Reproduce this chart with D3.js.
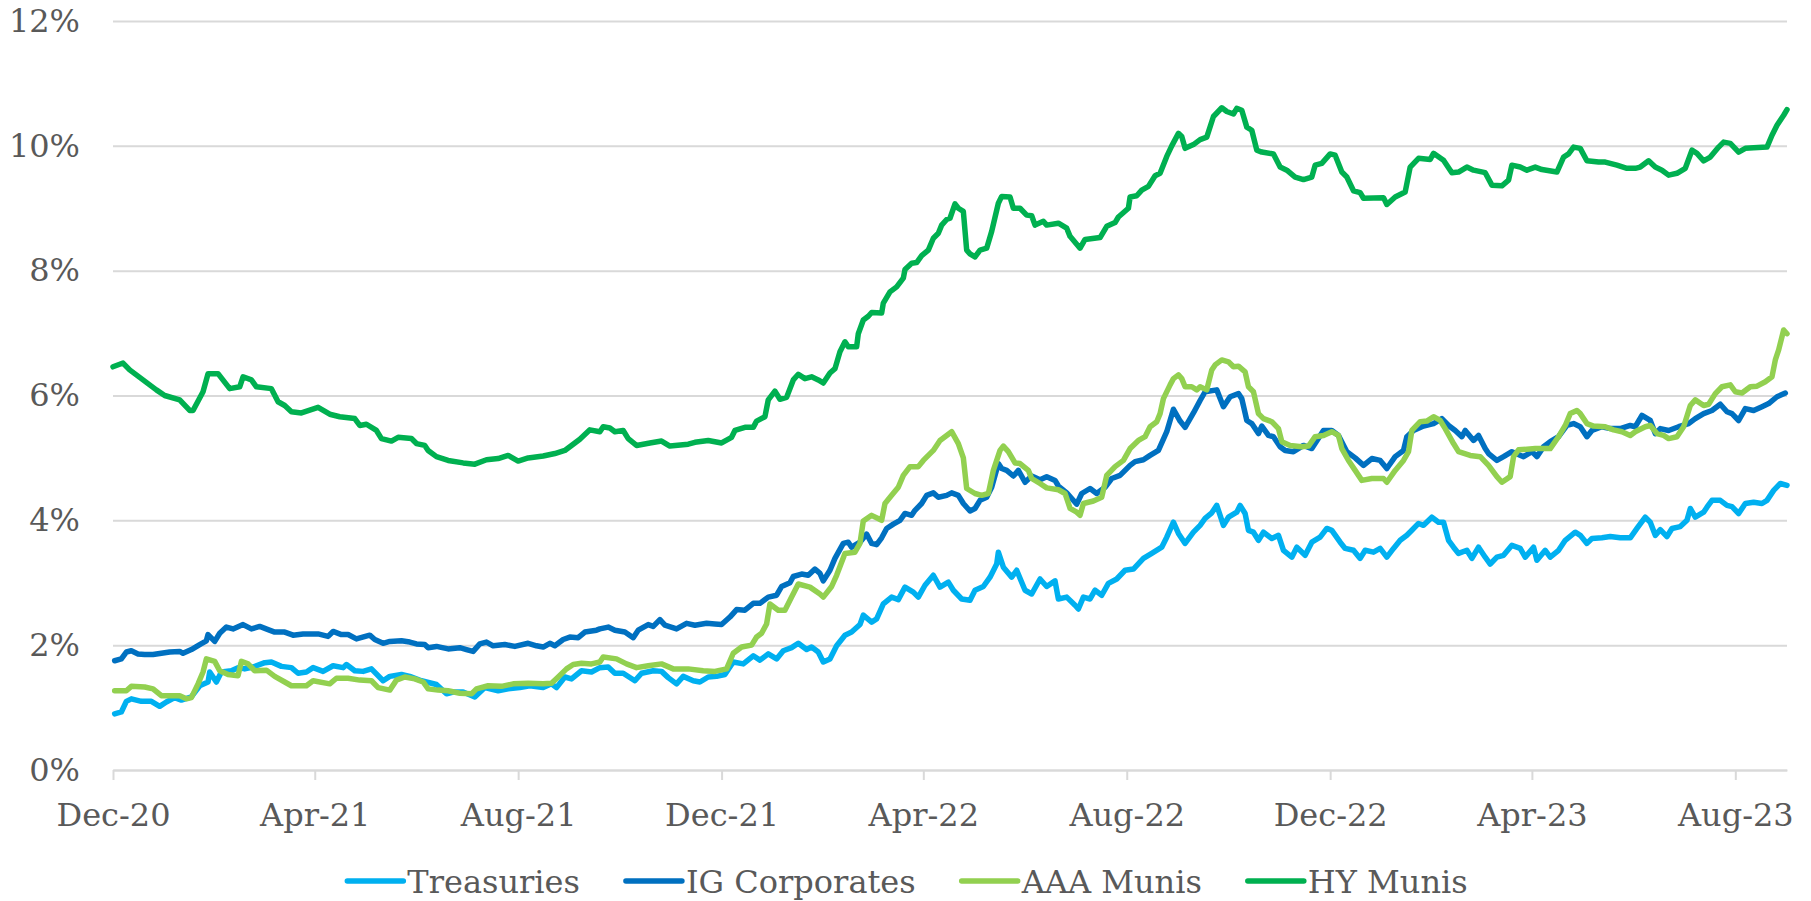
<!DOCTYPE html>
<html>
<head>
<meta charset="utf-8">
<script src="https://cdn.jsdelivr.net/npm/d3@7"></script>
<style>
  html, body { margin: 0; padding: 0; background: #ffffff; }
  svg { display: block; }
</style>
</head>
<body>
<svg id="chart"></svg>
<script>
// series names and colours, in legend order
const seriesNames = ["Treasuries", "IG Corporates", "AAA Munis", "HY Munis"];
const seriesColors = ["#00B0F0", "#0070C0", "#92D050", "#00B050"];

const xDomain = ["2020-12-01", "2023-09-01"];
const xTickDates = ["2020-12-01", "2021-04-01", "2021-08-01", "2021-12-01", "2022-04-01",
    "2022-08-01", "2022-12-01", "2023-04-01", "2023-08-01"];
const xTickLabels = ["Dec-20", "Apr-21", "Aug-21", "Dec-21", "Apr-22", "Aug-22", "Dec-22", "Apr-23", "Aug-23"];
const yTicks = [0, 2, 4, 6, 8, 10, 12];

// yields in %
const treasuries = [
    ["2020-12-02", 0.90], ["2020-12-06", 0.93], ["2020-12-09", 1.10], ["2020-12-12", 1.14], ["2020-12-18", 1.10],
    ["2020-12-24", 1.10], ["2020-12-29", 1.02], ["2021-01-02", 1.09], ["2021-01-07", 1.16], ["2021-01-11", 1.12],
    ["2021-01-17", 1.17], ["2021-01-22", 1.35], ["2021-01-27", 1.41], ["2021-01-28", 1.57], ["2021-02-01", 1.41],
    ["2021-02-04", 1.57], ["2021-02-10", 1.59], ["2021-02-14", 1.64], ["2021-02-18", 1.62], ["2021-02-23", 1.65],
    ["2021-03-02", 1.72], ["2021-03-06", 1.73], ["2021-03-12", 1.66], ["2021-03-18", 1.64], ["2021-03-22", 1.55],
    ["2021-03-27", 1.57], ["2021-03-31", 1.64], ["2021-04-06", 1.58], ["2021-04-12", 1.67], ["2021-04-18", 1.64],
    ["2021-04-20", 1.69], ["2021-04-25", 1.59], ["2021-04-30", 1.58], ["2021-05-05", 1.62], ["2021-05-12", 1.43],
    ["2021-05-16", 1.50], ["2021-05-23", 1.53], ["2021-05-28", 1.50], ["2021-06-04", 1.43], ["2021-06-13", 1.37],
    ["2021-06-19", 1.22], ["2021-06-23", 1.25], ["2021-06-29", 1.25], ["2021-07-06", 1.17], ["2021-07-12", 1.32],
    ["2021-07-20", 1.27], ["2021-07-26", 1.30], ["2021-08-02", 1.32], ["2021-08-08", 1.35], ["2021-08-16", 1.32],
    ["2021-08-21", 1.38], ["2021-08-24", 1.32], ["2021-08-29", 1.49], ["2021-09-02", 1.46], ["2021-09-08", 1.59],
    ["2021-09-14", 1.57], ["2021-09-19", 1.64], ["2021-09-24", 1.65], ["2021-09-28", 1.55], ["2021-10-03", 1.55],
    ["2021-10-10", 1.43], ["2021-10-14", 1.55], ["2021-10-21", 1.59], ["2021-10-26", 1.58], ["2021-10-30", 1.48],
    ["2021-11-04", 1.38], ["2021-11-08", 1.50], ["2021-11-14", 1.43], ["2021-11-18", 1.41], ["2021-11-23", 1.49],
    ["2021-11-28", 1.50], ["2021-12-03", 1.53], ["2021-12-08", 1.73], ["2021-12-14", 1.70], ["2021-12-20", 1.83],
    ["2021-12-24", 1.76], ["2021-12-29", 1.86], ["2022-01-03", 1.78], ["2022-01-07", 1.91], ["2022-01-12", 1.96],
    ["2022-01-16", 2.03], ["2022-01-21", 1.93], ["2022-01-24", 1.97], ["2022-01-28", 1.89], ["2022-01-31", 1.73],
    ["2022-02-04", 1.78], ["2022-02-08", 1.99], ["2022-02-13", 2.16], ["2022-02-17", 2.21], ["2022-02-22", 2.33],
    ["2022-02-24", 2.48], ["2022-03-01", 2.37], ["2022-03-04", 2.42], ["2022-03-08", 2.66], ["2022-03-13", 2.77],
    ["2022-03-17", 2.73], ["2022-03-21", 2.93], ["2022-03-26", 2.85], ["2022-03-29", 2.77], ["2022-04-02", 2.96],
    ["2022-04-07", 3.12], ["2022-04-11", 2.93], ["2022-04-16", 3.01], ["2022-04-19", 2.88], ["2022-04-24", 2.74],
    ["2022-04-29", 2.72], ["2022-05-02", 2.88], ["2022-05-07", 2.94], ["2022-05-11", 3.09], ["2022-05-15", 3.30],
    ["2022-05-16", 3.49], ["2022-05-19", 3.25], ["2022-05-24", 3.09], ["2022-05-27", 3.20], ["2022-06-01", 2.88],
    ["2022-06-05", 2.82], ["2022-06-10", 3.06], ["2022-06-14", 2.94], ["2022-06-19", 3.03], ["2022-06-21", 2.74],
    ["2022-06-26", 2.77], ["2022-07-01", 2.64], ["2022-07-03", 2.58], ["2022-07-06", 2.77], ["2022-07-10", 2.74],
    ["2022-07-13", 2.88], ["2022-07-17", 2.80], ["2022-07-21", 2.99], ["2022-07-26", 3.06], ["2022-07-31", 3.20],
    ["2022-08-05", 3.22], ["2022-08-11", 3.39], ["2022-08-16", 3.47], ["2022-08-22", 3.57], ["2022-08-25", 3.73],
    ["2022-08-29", 3.97], ["2022-09-01", 3.79], ["2022-09-05", 3.63], ["2022-09-10", 3.81], ["2022-09-14", 3.92],
    ["2022-09-17", 4.03], ["2022-09-21", 4.12], ["2022-09-24", 4.24], ["2022-09-28", 3.92], ["2022-10-01", 4.05],
    ["2022-10-06", 4.13], ["2022-10-08", 4.24], ["2022-10-11", 4.11], ["2022-10-13", 3.84], ["2022-10-16", 3.81],
    ["2022-10-19", 3.68], ["2022-10-22", 3.81], ["2022-10-27", 3.71], ["2022-10-31", 3.76], ["2022-11-03", 3.52],
    ["2022-11-08", 3.41], ["2022-11-11", 3.57], ["2022-11-16", 3.44], ["2022-11-20", 3.65], ["2022-11-25", 3.73],
    ["2022-11-29", 3.87], ["2022-12-02", 3.84], ["2022-12-07", 3.65], ["2022-12-10", 3.55], ["2022-12-15", 3.52],
    ["2022-12-19", 3.39], ["2022-12-22", 3.52], ["2022-12-27", 3.49], ["2022-12-31", 3.55], ["2023-01-04", 3.41],
    ["2023-01-08", 3.55], ["2023-01-12", 3.68], ["2023-01-16", 3.76], ["2023-01-19", 3.84], ["2023-01-23", 3.95],
    ["2023-01-26", 3.92], ["2023-01-31", 4.05], ["2023-02-04", 3.97], ["2023-02-07", 3.97], ["2023-02-10", 3.68],
    ["2023-02-13", 3.57], ["2023-02-16", 3.47], ["2023-02-21", 3.52], ["2023-02-24", 3.39], ["2023-02-28", 3.57],
    ["2023-03-04", 3.41], ["2023-03-07", 3.30], ["2023-03-11", 3.41], ["2023-03-15", 3.44], ["2023-03-20", 3.60],
    ["2023-03-25", 3.55], ["2023-03-28", 3.41], ["2023-04-02", 3.57], ["2023-04-04", 3.36], ["2023-04-09", 3.52],
    ["2023-04-12", 3.41], ["2023-04-17", 3.52], ["2023-04-21", 3.68], ["2023-04-27", 3.81], ["2023-04-30", 3.76],
    ["2023-05-04", 3.63], ["2023-05-07", 3.71], ["2023-05-13", 3.72], ["2023-05-18", 3.74], ["2023-05-24", 3.72],
    ["2023-05-30", 3.72], ["2023-06-03", 3.87], ["2023-06-08", 4.05], ["2023-06-11", 3.97], ["2023-06-14", 3.76],
    ["2023-06-17", 3.85], ["2023-06-21", 3.74], ["2023-06-24", 3.87], ["2023-06-29", 3.90], ["2023-07-03", 4.00],
    ["2023-07-05", 4.19], ["2023-07-08", 4.05], ["2023-07-13", 4.13], ["2023-07-15", 4.21], ["2023-07-18", 4.32],
    ["2023-07-23", 4.32], ["2023-07-27", 4.24], ["2023-07-30", 4.22], ["2023-08-03", 4.11], ["2023-08-07", 4.27],
    ["2023-08-12", 4.29], ["2023-08-17", 4.27], ["2023-08-20", 4.32], ["2023-08-24", 4.48], ["2023-08-28", 4.59],
    ["2023-09-01", 4.56]
];

const igCorporates = [
    ["2020-12-02", 1.75], ["2020-12-06", 1.78], ["2020-12-09", 1.89], ["2020-12-12", 1.91], ["2020-12-16", 1.86],
    ["2020-12-20", 1.85], ["2020-12-25", 1.85], ["2020-12-30", 1.87], ["2021-01-04", 1.89], ["2021-01-10", 1.90],
    ["2021-01-12", 1.87], ["2021-01-17", 1.93], ["2021-01-22", 2.01], ["2021-01-26", 2.07], ["2021-01-27", 2.17],
    ["2021-01-31", 2.06], ["2021-02-03", 2.19], ["2021-02-07", 2.29], ["2021-02-11", 2.26], ["2021-02-17", 2.33],
    ["2021-02-22", 2.26], ["2021-02-27", 2.30], ["2021-03-04", 2.25], ["2021-03-08", 2.21], ["2021-03-14", 2.21],
    ["2021-03-19", 2.16], ["2021-03-25", 2.18], ["2021-04-03", 2.18], ["2021-04-09", 2.14], ["2021-04-12", 2.22],
    ["2021-04-17", 2.17], ["2021-04-21", 2.17], ["2021-04-26", 2.10], ["2021-05-04", 2.16], ["2021-05-07", 2.09],
    ["2021-05-12", 2.03], ["2021-05-16", 2.06], ["2021-05-23", 2.07], ["2021-05-28", 2.05], ["2021-06-01", 2.02],
    ["2021-06-06", 2.01], ["2021-06-08", 1.96], ["2021-06-13", 1.98], ["2021-06-20", 1.94], ["2021-06-27", 1.96],
    ["2021-07-01", 1.93], ["2021-07-05", 1.90], ["2021-07-09", 2.02], ["2021-07-13", 2.05], ["2021-07-17", 1.99],
    ["2021-07-24", 2.01], ["2021-07-30", 1.98], ["2021-08-07", 2.03], ["2021-08-12", 1.99], ["2021-08-16", 1.97],
    ["2021-08-20", 2.03], ["2021-08-23", 1.99], ["2021-08-28", 2.09], ["2021-09-01", 2.13], ["2021-09-06", 2.12],
    ["2021-09-10", 2.21], ["2021-09-17", 2.24], ["2021-09-19", 2.26], ["2021-09-24", 2.29], ["2021-09-28", 2.24],
    ["2021-10-04", 2.21], ["2021-10-09", 2.12], ["2021-10-12", 2.24], ["2021-10-18", 2.33], ["2021-10-21", 2.30],
    ["2021-10-25", 2.41], ["2021-10-28", 2.32], ["2021-11-04", 2.26], ["2021-11-10", 2.35], ["2021-11-15", 2.32],
    ["2021-11-22", 2.35], ["2021-11-27", 2.34], ["2021-12-01", 2.33], ["2021-12-06", 2.45], ["2021-12-10", 2.57],
    ["2021-12-15", 2.56], ["2021-12-20", 2.67], ["2021-12-24", 2.67], ["2021-12-29", 2.77], ["2022-01-03", 2.80],
    ["2022-01-06", 2.94], ["2022-01-11", 3.00], ["2022-01-13", 3.10], ["2022-01-18", 3.14], ["2022-01-22", 3.12],
    ["2022-01-26", 3.22], ["2022-01-29", 3.15], ["2022-01-31", 3.03], ["2022-02-04", 3.20], ["2022-02-07", 3.39],
    ["2022-02-12", 3.63], ["2022-02-15", 3.65], ["2022-02-17", 3.57], ["2022-02-22", 3.65], ["2022-02-26", 3.78],
    ["2022-03-01", 3.63], ["2022-03-04", 3.61], ["2022-03-07", 3.72], ["2022-03-10", 3.87], ["2022-03-14", 3.94],
    ["2022-03-18", 4.00], ["2022-03-21", 4.11], ["2022-03-25", 4.08], ["2022-03-27", 4.16], ["2022-03-31", 4.27],
    ["2022-04-03", 4.40], ["2022-04-07", 4.44], ["2022-04-10", 4.37], ["2022-04-15", 4.40], ["2022-04-18", 4.44],
    ["2022-04-22", 4.40], ["2022-04-25", 4.27], ["2022-04-29", 4.15], ["2022-05-02", 4.19], ["2022-05-05", 4.32],
    ["2022-05-09", 4.37], ["2022-05-12", 4.53], ["2022-05-16", 4.91], ["2022-05-18", 4.83], ["2022-05-21", 4.80],
    ["2022-05-25", 4.71], ["2022-05-28", 4.80], ["2022-06-01", 4.61], ["2022-06-05", 4.71], ["2022-06-10", 4.65],
    ["2022-06-14", 4.70], ["2022-06-19", 4.64], ["2022-06-21", 4.55], ["2022-06-26", 4.44], ["2022-06-29", 4.35],
    ["2022-07-02", 4.26], ["2022-07-05", 4.43], ["2022-07-10", 4.51], ["2022-07-14", 4.43], ["2022-07-19", 4.53],
    ["2022-07-23", 4.67], ["2022-07-28", 4.72], ["2022-08-03", 4.88], ["2022-08-06", 4.94], ["2022-08-11", 4.97],
    ["2022-08-15", 5.04], ["2022-08-20", 5.12], ["2022-08-25", 5.42], ["2022-08-29", 5.78], ["2022-09-02", 5.59],
    ["2022-09-05", 5.49], ["2022-09-10", 5.72], ["2022-09-14", 5.92], ["2022-09-17", 6.06], ["2022-09-24", 6.09],
    ["2022-09-28", 5.82], ["2022-10-02", 5.98], ["2022-10-07", 6.03], ["2022-10-09", 5.95], ["2022-10-12", 5.60],
    ["2022-10-15", 5.55], ["2022-10-19", 5.39], ["2022-10-21", 5.51], ["2022-10-25", 5.36], ["2022-10-28", 5.34],
    ["2022-11-01", 5.18], ["2022-11-04", 5.12], ["2022-11-09", 5.10], ["2022-11-15", 5.20], ["2022-11-20", 5.15],
    ["2022-11-27", 5.44], ["2022-12-02", 5.44], ["2022-12-06", 5.36], ["2022-12-11", 5.10], ["2022-12-16", 5.00],
    ["2022-12-21", 4.88], ["2022-12-26", 4.99], ["2022-12-31", 4.96], ["2023-01-04", 4.83], ["2023-01-09", 5.02],
    ["2023-01-14", 5.12], ["2023-01-16", 5.34], ["2023-01-20", 5.44], ["2023-01-26", 5.51], ["2023-02-01", 5.55],
    ["2023-02-06", 5.63], ["2023-02-10", 5.52], ["2023-02-14", 5.44], ["2023-02-18", 5.34], ["2023-02-20", 5.44],
    ["2023-02-25", 5.28], ["2023-02-28", 5.36], ["2023-03-04", 5.15], ["2023-03-06", 5.07], ["2023-03-11", 4.96],
    ["2023-03-15", 5.02], ["2023-03-20", 5.10], ["2023-03-27", 5.02], ["2023-04-01", 5.10], ["2023-04-04", 5.02],
    ["2023-04-08", 5.18], ["2023-04-12", 5.26], ["2023-04-17", 5.34], ["2023-04-22", 5.52], ["2023-04-26", 5.55],
    ["2023-04-30", 5.50], ["2023-05-04", 5.34], ["2023-05-07", 5.44], ["2023-05-13", 5.50], ["2023-05-18", 5.47],
    ["2023-05-24", 5.47], ["2023-05-30", 5.52], ["2023-06-02", 5.50], ["2023-06-06", 5.68], ["2023-06-11", 5.60],
    ["2023-06-14", 5.39], ["2023-06-17", 5.47], ["2023-06-22", 5.44], ["2023-06-28", 5.50], ["2023-07-04", 5.55],
    ["2023-07-08", 5.63], ["2023-07-13", 5.71], ["2023-07-18", 5.76], ["2023-07-23", 5.86], ["2023-07-27", 5.74],
    ["2023-07-30", 5.71], ["2023-08-03", 5.60], ["2023-08-07", 5.79], ["2023-08-12", 5.76], ["2023-08-17", 5.82],
    ["2023-08-21", 5.87], ["2023-08-26", 5.98], ["2023-08-31", 6.04]
];

const aaaMunis = [
    ["2020-12-02", 1.27], ["2020-12-09", 1.27], ["2020-12-12", 1.34], ["2020-12-20", 1.33], ["2020-12-25", 1.30],
    ["2020-12-30", 1.19], ["2021-01-06", 1.19], ["2021-01-10", 1.19], ["2021-01-14", 1.14], ["2021-01-17", 1.16],
    ["2021-01-21", 1.38], ["2021-01-24", 1.57], ["2021-01-26", 1.78], ["2021-01-31", 1.74], ["2021-02-03", 1.59],
    ["2021-02-08", 1.53], ["2021-02-14", 1.51], ["2021-02-16", 1.74], ["2021-02-20", 1.70], ["2021-02-24", 1.59],
    ["2021-03-03", 1.60], ["2021-03-08", 1.50], ["2021-03-14", 1.41], ["2021-03-18", 1.35], ["2021-03-27", 1.35],
    ["2021-03-31", 1.43], ["2021-04-10", 1.38], ["2021-04-14", 1.47], ["2021-04-21", 1.47], ["2021-04-28", 1.44],
    ["2021-05-05", 1.43], ["2021-05-09", 1.32], ["2021-05-16", 1.28], ["2021-05-20", 1.44], ["2021-05-25", 1.49],
    ["2021-05-31", 1.46], ["2021-06-05", 1.41], ["2021-06-08", 1.30], ["2021-06-14", 1.28], ["2021-06-20", 1.27],
    ["2021-06-27", 1.23], ["2021-07-04", 1.22], ["2021-07-07", 1.30], ["2021-07-14", 1.35], ["2021-07-22", 1.34],
    ["2021-07-29", 1.38], ["2021-08-07", 1.39], ["2021-08-16", 1.38], ["2021-08-21", 1.39], ["2021-08-25", 1.49],
    ["2021-08-30", 1.62], ["2021-09-03", 1.69], ["2021-09-08", 1.71], ["2021-09-14", 1.70], ["2021-09-19", 1.73],
    ["2021-09-21", 1.81], ["2021-09-29", 1.78], ["2021-10-05", 1.70], ["2021-10-11", 1.64], ["2021-10-18", 1.67],
    ["2021-10-26", 1.70], ["2021-11-02", 1.62], ["2021-11-11", 1.62], ["2021-11-20", 1.59], ["2021-11-27", 1.58],
    ["2021-12-04", 1.62], ["2021-12-08", 1.87], ["2021-12-13", 1.97], ["2021-12-19", 2.00], ["2021-12-22", 2.13],
    ["2021-12-25", 2.19], ["2021-12-28", 2.34], ["2021-12-30", 2.66], ["2022-01-04", 2.56], ["2022-01-08", 2.56],
    ["2022-01-12", 2.77], ["2022-01-16", 2.98], ["2022-01-23", 2.93], ["2022-01-29", 2.82], ["2022-01-31", 2.77],
    ["2022-02-05", 2.94], ["2022-02-08", 3.12], ["2022-02-13", 3.47], ["2022-02-19", 3.49], ["2022-02-22", 3.63],
    ["2022-02-24", 3.99], ["2022-03-01", 4.08], ["2022-03-07", 4.00], ["2022-03-09", 4.27], ["2022-03-13", 4.40],
    ["2022-03-17", 4.53], ["2022-03-20", 4.72], ["2022-03-24", 4.86], ["2022-03-29", 4.86], ["2022-04-01", 4.96],
    ["2022-04-07", 5.12], ["2022-04-11", 5.28], ["2022-04-15", 5.36], ["2022-04-18", 5.42], ["2022-04-22", 5.23],
    ["2022-04-25", 5.00], ["2022-04-27", 4.51], ["2022-05-02", 4.43], ["2022-05-06", 4.40], ["2022-05-10", 4.43],
    ["2022-05-13", 4.80], ["2022-05-17", 5.12], ["2022-05-19", 5.19], ["2022-05-22", 5.10], ["2022-05-26", 4.92],
    ["2022-05-29", 4.91], ["2022-06-03", 4.80], ["2022-06-05", 4.67], ["2022-06-10", 4.59], ["2022-06-14", 4.52],
    ["2022-06-21", 4.49], ["2022-06-25", 4.43], ["2022-06-28", 4.19], ["2022-07-02", 4.13], ["2022-07-04", 4.08],
    ["2022-07-06", 4.27], ["2022-07-12", 4.31], ["2022-07-17", 4.37], ["2022-07-20", 4.72], ["2022-07-25", 4.86],
    ["2022-07-30", 4.96], ["2022-08-03", 5.15], ["2022-08-08", 5.28], ["2022-08-12", 5.34], ["2022-08-15", 5.50],
    ["2022-08-19", 5.58], ["2022-08-21", 5.71], ["2022-08-23", 5.95], ["2022-08-27", 6.17], ["2022-08-29", 6.27],
    ["2022-09-01", 6.33], ["2022-09-03", 6.27], ["2022-09-05", 6.14], ["2022-09-09", 6.14], ["2022-09-12", 6.09],
    ["2022-09-14", 6.14], ["2022-09-18", 6.09], ["2022-09-21", 6.41], ["2022-09-23", 6.49], ["2022-09-27", 6.57],
    ["2022-10-01", 6.54], ["2022-10-04", 6.46], ["2022-10-07", 6.47], ["2022-10-11", 6.38], ["2022-10-13", 6.14],
    ["2022-10-16", 6.06], ["2022-10-19", 5.71], ["2022-10-22", 5.63], ["2022-10-27", 5.58], ["2022-10-31", 5.47],
    ["2022-11-02", 5.26], ["2022-11-07", 5.20], ["2022-11-14", 5.18], ["2022-11-18", 5.19], ["2022-11-22", 5.34],
    ["2022-11-27", 5.36], ["2022-12-02", 5.42], ["2022-12-06", 5.36], ["2022-12-08", 5.15], ["2022-12-12", 4.96],
    ["2022-12-16", 4.80], ["2022-12-20", 4.64], ["2022-12-26", 4.67], ["2023-01-02", 4.67], ["2023-01-04", 4.61],
    ["2023-01-09", 4.80], ["2023-01-14", 4.96], ["2023-01-17", 5.10], ["2023-01-19", 5.44], ["2023-01-24", 5.58],
    ["2023-01-28", 5.59], ["2023-02-01", 5.66], ["2023-02-05", 5.60], ["2023-02-08", 5.47], ["2023-02-13", 5.23],
    ["2023-02-16", 5.10], ["2023-02-23", 5.04], ["2023-03-01", 5.02], ["2023-03-06", 4.88], ["2023-03-11", 4.70],
    ["2023-03-14", 4.61], ["2023-03-19", 4.70], ["2023-03-21", 5.02], ["2023-03-24", 5.13], ["2023-04-03", 5.15],
    ["2023-04-12", 5.15], ["2023-04-17", 5.34], ["2023-04-21", 5.52], ["2023-04-24", 5.71], ["2023-04-28", 5.76],
    ["2023-04-30", 5.71], ["2023-05-04", 5.55], ["2023-05-08", 5.51], ["2023-05-15", 5.50], ["2023-05-20", 5.45],
    ["2023-05-25", 5.42], ["2023-05-30", 5.36], ["2023-06-02", 5.42], ["2023-06-08", 5.50], ["2023-06-11", 5.52],
    ["2023-06-15", 5.39], ["2023-06-19", 5.36], ["2023-06-22", 5.31], ["2023-06-27", 5.34], ["2023-07-01", 5.50],
    ["2023-07-05", 5.84], ["2023-07-08", 5.93], ["2023-07-13", 5.84], ["2023-07-16", 5.86], ["2023-07-20", 6.03],
    ["2023-07-24", 6.14], ["2023-07-29", 6.17], ["2023-08-01", 6.06], ["2023-08-05", 6.04], ["2023-08-10", 6.14],
    ["2023-08-14", 6.15], ["2023-08-19", 6.22], ["2023-08-23", 6.30], ["2023-08-25", 6.57], ["2023-08-27", 6.73],
    ["2023-08-30", 7.05], ["2023-09-01", 6.99]
];

const hyMunis = [
    ["2020-12-01", 6.46], ["2020-12-07", 6.52], ["2020-12-11", 6.41], ["2020-12-18", 6.27], ["2020-12-27", 6.09],
    ["2021-01-01", 6.00], ["2021-01-10", 5.93], ["2021-01-16", 5.76], ["2021-01-18", 5.76], ["2021-01-24", 6.06],
    ["2021-01-27", 6.35], ["2021-02-02", 6.35], ["2021-02-09", 6.11], ["2021-02-15", 6.14], ["2021-02-17", 6.30],
    ["2021-02-22", 6.25], ["2021-02-25", 6.14], ["2021-03-06", 6.11], ["2021-03-10", 5.90], ["2021-03-14", 5.84],
    ["2021-03-18", 5.74], ["2021-03-24", 5.72], ["2021-04-03", 5.81], ["2021-04-10", 5.70], ["2021-04-16", 5.66],
    ["2021-04-25", 5.63], ["2021-04-28", 5.52], ["2021-05-02", 5.54], ["2021-05-08", 5.44], ["2021-05-11", 5.31],
    ["2021-05-17", 5.27], ["2021-05-21", 5.33], ["2021-05-29", 5.31], ["2021-06-01", 5.23], ["2021-06-06", 5.20],
    ["2021-06-08", 5.12], ["2021-06-13", 5.02], ["2021-06-20", 4.96], ["2021-06-29", 4.92], ["2021-07-06", 4.90],
    ["2021-07-13", 4.97], ["2021-07-20", 4.99], ["2021-07-26", 5.04], ["2021-08-01", 4.95], ["2021-08-07", 5.00],
    ["2021-08-16", 5.03], ["2021-08-23", 5.07], ["2021-08-29", 5.12], ["2021-09-07", 5.30], ["2021-09-13", 5.45],
    ["2021-09-19", 5.42], ["2021-09-21", 5.50], ["2021-09-25", 5.48], ["2021-09-28", 5.42], ["2021-10-03", 5.44],
    ["2021-10-06", 5.31], ["2021-10-11", 5.20], ["2021-10-19", 5.24], ["2021-10-26", 5.27], ["2021-10-31", 5.19],
    ["2021-11-11", 5.22], ["2021-11-15", 5.25], ["2021-11-23", 5.28], ["2021-12-01", 5.24], ["2021-12-07", 5.33],
    ["2021-12-09", 5.44], ["2021-12-15", 5.49], ["2021-12-20", 5.49], ["2021-12-22", 5.59], ["2021-12-27", 5.66],
    ["2021-12-29", 5.93], ["2022-01-02", 6.07], ["2022-01-05", 5.94], ["2022-01-09", 5.97], ["2022-01-13", 6.25],
    ["2022-01-16", 6.34], ["2022-01-20", 6.27], ["2022-01-24", 6.30], ["2022-01-28", 6.25], ["2022-01-31", 6.20],
    ["2022-02-04", 6.36], ["2022-02-07", 6.43], ["2022-02-10", 6.70], ["2022-02-13", 6.86], ["2022-02-15", 6.78],
    ["2022-02-20", 6.78], ["2022-02-21", 6.99], ["2022-02-24", 7.21], ["2022-02-27", 7.27], ["2022-03-01", 7.33],
    ["2022-03-07", 7.32], ["2022-03-08", 7.48], ["2022-03-12", 7.66], ["2022-03-16", 7.74], ["2022-03-20", 7.88],
    ["2022-03-21", 8.02], ["2022-03-25", 8.12], ["2022-03-28", 8.13], ["2022-03-31", 8.24], ["2022-04-04", 8.33],
    ["2022-04-07", 8.52], ["2022-04-10", 8.60], ["2022-04-12", 8.73], ["2022-04-15", 8.82], ["2022-04-17", 8.84],
    ["2022-04-20", 9.07], ["2022-04-22", 9.00], ["2022-04-25", 8.95], ["2022-04-27", 8.33], ["2022-04-29", 8.27],
    ["2022-05-02", 8.22], ["2022-05-05", 8.33], ["2022-05-09", 8.36], ["2022-05-12", 8.63], ["2022-05-16", 9.08],
    ["2022-05-18", 9.19], ["2022-05-23", 9.18], ["2022-05-25", 9.00], ["2022-05-29", 9.00], ["2022-06-02", 8.89],
    ["2022-06-05", 8.88], ["2022-06-07", 8.73], ["2022-06-12", 8.79], ["2022-06-14", 8.73], ["2022-06-21", 8.76],
    ["2022-06-26", 8.68], ["2022-06-28", 8.55], ["2022-07-04", 8.36], ["2022-07-07", 8.50], ["2022-07-16", 8.53],
    ["2022-07-20", 8.71], ["2022-07-25", 8.77], ["2022-07-27", 8.86], ["2022-08-02", 9.00], ["2022-08-03", 9.18],
    ["2022-08-07", 9.20], ["2022-08-10", 9.29], ["2022-08-14", 9.35], ["2022-08-18", 9.52], ["2022-08-21", 9.56],
    ["2022-08-25", 9.83], ["2022-08-28", 10.00], ["2022-09-01", 10.20], ["2022-09-03", 10.15], ["2022-09-05", 9.96],
    ["2022-09-10", 10.02], ["2022-09-14", 10.10], ["2022-09-18", 10.14], ["2022-09-22", 10.47], ["2022-09-27", 10.61],
    ["2022-09-30", 10.55], ["2022-10-04", 10.51], ["2022-10-06", 10.60], ["2022-10-09", 10.57], ["2022-10-12", 10.30],
    ["2022-10-15", 10.25], ["2022-10-18", 9.93], ["2022-10-21", 9.90], ["2022-10-28", 9.87], ["2022-11-01", 9.66],
    ["2022-11-05", 9.61], ["2022-11-10", 9.50], ["2022-11-15", 9.46], ["2022-11-20", 9.50], ["2022-11-22", 9.69],
    ["2022-11-26", 9.72], ["2022-12-01", 9.87], ["2022-12-04", 9.85], ["2022-12-08", 9.58], ["2022-12-11", 9.50],
    ["2022-12-15", 9.28], ["2022-12-19", 9.25], ["2022-12-21", 9.16], ["2023-01-02", 9.17], ["2023-01-04", 9.06],
    ["2023-01-09", 9.18], ["2023-01-15", 9.26], ["2023-01-18", 9.66], ["2023-01-23", 9.80], ["2023-01-30", 9.78],
    ["2023-02-01", 9.88], ["2023-02-07", 9.77], ["2023-02-12", 9.57], ["2023-02-16", 9.58], ["2023-02-21", 9.66],
    ["2023-02-25", 9.61], ["2023-03-04", 9.57], ["2023-03-08", 9.37], ["2023-03-14", 9.36], ["2023-03-18", 9.45],
    ["2023-03-20", 9.69], ["2023-03-25", 9.66], ["2023-03-29", 9.61], ["2023-04-03", 9.66], ["2023-04-07", 9.62],
    ["2023-04-16", 9.58], ["2023-04-20", 9.82], ["2023-04-23", 9.87], ["2023-04-26", 9.98], ["2023-04-30", 9.96],
    ["2023-05-04", 9.76], ["2023-05-11", 9.74], ["2023-05-15", 9.74], ["2023-05-22", 9.69], ["2023-05-28", 9.64],
    ["2023-06-02", 9.64], ["2023-06-05", 9.66], ["2023-06-10", 9.76], ["2023-06-14", 9.66], ["2023-06-18", 9.61],
    ["2023-06-22", 9.53], ["2023-06-27", 9.56], ["2023-07-02", 9.64], ["2023-07-06", 9.93], ["2023-07-09", 9.88],
    ["2023-07-13", 9.76], ["2023-07-17", 9.82], ["2023-07-22", 9.98], ["2023-07-25", 10.06], ["2023-07-29", 10.04],
    ["2023-08-03", 9.90], ["2023-08-07", 9.96], ["2023-08-12", 9.97], ["2023-08-20", 9.98], ["2023-08-23", 10.17],
    ["2023-08-26", 10.33], ["2023-08-30", 10.49], ["2023-09-01", 10.58]
];

const seriesValues = [treasuries, igCorporates, aaaMunis, hyMunis];

class LineChart {

    constructor(config, data) {
        this.config = {
            parent: config.parent,
            width: config.width || 1811,
            height: config.height || 901,
            margin: config.margin || { top: 21, right: 24, bottom: 131, left: 113 },
            font: config.font || "'DejaVu Serif', Georgia, serif",
            fontSize: config.fontSize || 32,
            textColor: config.textColor || '#595959',
            gridColor: config.gridColor || '#D9D9D9',
        };
        this.data = data;
        this.init();
    }

    init() {
        let self = this;
        let parse = d3.timeParse('%Y-%m-%d');
        self.parse = parse;

        self.svg = d3.select(self.config.parent)
            .attr('width', self.config.width)
            .attr('height', self.config.height)
            .style('font-family', self.config.font);

        let margin = self.config.margin;
        self.inner_width = self.config.width - margin.left - margin.right;
        self.inner_height = self.config.height - margin.top - margin.bottom;

        self.chart = self.svg.append('g')
            .attr('transform', `translate(${margin.left}, ${margin.top})`);

        self.xscale = d3.scaleTime()
            .domain(xDomain.map(parse))
            .range([0, self.inner_width]);

        self.yscale = d3.scaleLinear()
            .domain([0, 12])
            .range([self.inner_height, 0]);

        self.yaxis = d3.axisLeft(self.yscale)
            .tickValues(yTicks)
            .tickSize(-self.inner_width)
            .tickPadding(33)
            .tickFormat(d => d + '%');

        self.xaxis = d3.axisBottom(self.xscale)
            .tickValues(xTickDates.map(parse))
            .tickSize(10)
            .tickSizeOuter(0)
            .tickPadding(23)
            .tickFormat((d, i) => xTickLabels[i]);

        self.yaxis_group = self.chart.append('g');
        self.xaxis_group = self.chart.append('g')
            .attr('transform', `translate(0, ${self.inner_height})`);
        self.line_group = self.chart.append('g');
        self.legend_group = self.svg.append('g');
    }

    render() {
        let self = this;
        let c = self.config;

        self.yaxis_group.call(self.yaxis);
        self.yaxis_group.select('.domain').remove();
        self.yaxis_group.selectAll('.tick line')
            .attr('stroke', c.gridColor)
            .attr('stroke-width', 2);
        self.yaxis_group.selectAll('.tick text')
            .attr('fill', c.textColor)
            .attr('font-size', c.fontSize)
            .attr('font-family', c.font);

        self.xaxis_group.call(self.xaxis);
        self.xaxis_group.select('.domain')
            .attr('stroke', c.gridColor)
            .attr('stroke-width', 2);
        self.xaxis_group.selectAll('.tick line')
            .attr('stroke', c.gridColor)
            .attr('stroke-width', 2);
        self.xaxis_group.selectAll('.tick text')
            .attr('fill', c.textColor)
            .attr('font-size', c.fontSize)
            .attr('font-family', c.font);

        let line = d3.line()
            .x(d => self.xscale(self.parse(d[0])))
            .y(d => self.yscale(d[1]));

        self.line_group.selectAll('path')
            .data(self.data).enter()
            .append('path')
            .attr('d', d => line(d))
            .attr('fill', 'none')
            .attr('stroke', (d, i) => seriesColors[i])
            .attr('stroke-width', 5.5)
            .attr('stroke-linejoin', 'round')
            .attr('stroke-linecap', 'round');

        // legend, centred under the chart
        let legendY = 881;
        let items = self.legend_group.selectAll('g')
            .data(seriesNames).enter()
            .append('g');

        items.append('line')
            .attr('x1', 0)
            .attr('x2', 56)
            .attr('y1', legendY)
            .attr('y2', legendY)
            .attr('stroke', (d, i) => seriesColors[i])
            .attr('stroke-width', 5.5)
            .attr('stroke-linecap', 'round');

        items.append('text')
            .attr('x', 60)
            .attr('y', legendY + 12)
            .attr('fill', c.textColor)
            .attr('font-size', c.fontSize)
            .attr('font-family', c.font)
            .text(d => d);

        let offset = 0;
        items.each(function () {
            let w = d3.select(this).select('text').node().getComputedTextLength();
            d3.select(this).attr('transform', `translate(${offset}, 0)`);
            offset += 60 + w + 46;
        });
        let total = offset - 46;
        self.legend_group.attr('transform', `translate(${907.5 - total / 2}, 0)`);
    }
}

let chart = new LineChart({ parent: '#chart', width: 1811, height: 901 }, seriesValues);
chart.render();
</script>
</body>
</html>
